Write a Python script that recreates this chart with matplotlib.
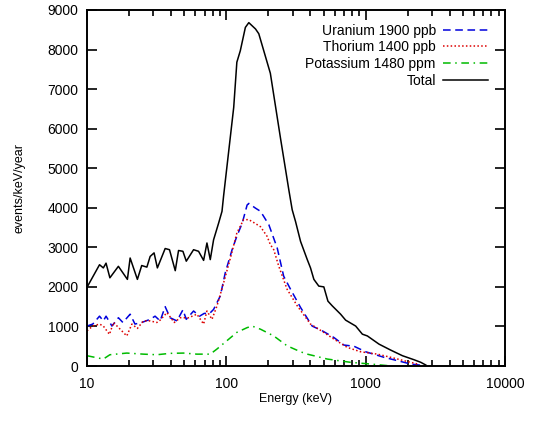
import matplotlib
matplotlib.use("Agg")
import matplotlib.pyplot as plt
from matplotlib.ticker import LogLocator, NullFormatter, FixedLocator

plt.rcParams['font.family'] = ['Liberation Sans', 'DejaVu Sans']
plt.rcParams['font.size'] = 10

# Total spectrum
total_e = [10, 12.3, 13.1, 13.7, 14.6, 16.8, 19.5, 20.4, 23.0, 24.7, 26.9, 28.4, 30.3,
           32.0, 36.4, 39.1, 43.0, 45.4, 48.8, 51.6, 58.2, 63.2, 68.7, 72.6, 76.7,
           81.0, 88.0, 93.1, 95.6, 113, 119, 126, 137, 145, 162, 171, 207, 245, 281,
           297, 314, 341, 381, 402, 425, 461, 501, 536, 576, 661, 718, 848, 947,
           1029, 1247, 1513, 1837, 2226, 2488, 2702]
total_v = [1990, 2560, 2480, 2600, 2230, 2520, 2190, 2730, 2190, 2540, 2500, 2770, 2860,
           2480, 2970, 2940, 2410, 2920, 2900, 2650, 2940, 2900, 2670, 3110, 2690,
           3190, 3610, 3910, 4300, 6540, 7680, 7970, 8560, 8680, 8520, 8400, 7400, 5750, 4450,
           3950, 3650, 3150, 2690, 2480, 2190, 2020, 2000, 1640, 1520, 1310, 1160, 1010, 805,
           760, 553, 402, 260, 158, 93, 25]

# Uranium 1900 ppb
u_e = [10, 11.0, 12.3, 13.1, 13.7, 15.1, 16.8, 18.1, 20.4, 22.1, 24.7, 28.4, 30.8,
       33.5, 36.4, 39.5, 44.2, 48.8, 51.6, 58.2, 64.3, 69.4, 75.9, 81.0, 90.5, 98.3,
       110, 119, 130, 141, 145, 162, 176, 202, 232, 258, 289, 341, 413, 488, 592,
       698, 824, 1000, 1354, 1691, 2107, 2627]
u_v = [1010, 1060, 1260, 1140, 1260, 1010, 1220, 1100, 1310, 1060, 1100, 1180, 1260,
       1140, 1500, 1220, 1140, 1420, 1180, 1390, 1260, 1330, 1330, 1430, 1770, 2360,
       2940, 3280, 3610, 4070, 4110, 3990, 3910, 3570, 2980, 2270, 1940, 1480, 1010, 890, 720,
       530, 500, 360, 220, 135, 50, 10]

# Thorium 1400 ppb
th_e = [10, 11.0, 12.3, 13.1, 14.5, 15.5, 17.3, 19.3, 21.0, 23.0, 25.4, 28.4, 31.7,
        33.5, 37.5, 42.3, 46.7, 53.6, 61.5, 68.7, 72.6, 78.9, 85.7, 95.6, 107, 119,
        133, 145, 162, 176, 196, 207, 219, 238, 273, 323, 402, 501, 592, 738, 920,
        1214, 1513, 1886, 2355]
th_v = [890, 1010, 1060, 1010, 800, 1100, 930, 760, 1060, 950, 1140, 1140, 1100,
        1160, 1350, 1100, 1220, 1220, 1310, 1060, 1390, 1180, 1520, 2100, 2730, 3360,
        3700, 3700, 3600, 3520, 3280, 3070, 2940, 2520, 1940, 1520, 1060, 850, 680, 470, 360,
        300, 220, 135, 50]

# Potassium 1480 ppm
k_e = [10, 13.1, 14.6, 19.3, 25.4, 31.7, 39.5, 49.3, 61.5, 76.7, 85.7, 101, 119, 141,
       153, 176, 219, 273, 341, 381, 425, 530, 780, 1087, 1432]
k_v = [260, 176, 285, 327, 300, 285, 320, 327, 300, 300, 430, 640, 850, 970,
       1010, 930, 760, 510, 360, 300, 260, 176, 93, 50, 10]

fig = plt.figure(figsize=(5.35, 4.25), dpi=100)
ax = fig.add_axes([0.1626, 0.1388, 0.7813, 0.8377])

ax.plot(u_e, u_v, color='#0000dd', lw=1.1, ls=(0, (5, 3)), label='Uranium 1900 ppb')
ax.plot(th_e, th_v, color='#dd0000', lw=1.1, ls=(0, (1, 1.5)), label='Thorium 1400 ppb')
ax.plot(k_e, k_v, color='#00bb00', lw=1.1, ls=(0, (5, 3, 1, 3)), label='Potassium 1480 ppm')
ax.plot(total_e, total_v, color='black', lw=1.1, label='Total')

ax.set_xscale('log')
ax.set_xlim(10, 10000)
ax.set_ylim(0, 9000)
ax.xaxis.set_major_locator(FixedLocator([10, 100, 1000, 10000]))
ax.xaxis.set_minor_locator(LogLocator(base=10, subs=range(2, 10)))
ax.xaxis.set_minor_formatter(NullFormatter())
ax.set_xticklabels(['10', '100', '1000', '10000'])
ax.set_yticks(range(0, 9001, 1000))

ax.tick_params(which='both', direction='in', top=True, right=True, width=1.2)
ax.tick_params(which='major', length=7, pad=8)
ax.tick_params(which='minor', length=4)
ax.tick_params(axis='y', pad=6)
for s in ax.spines.values():
    s.set_linewidth(1.4)

ax.set_xlabel('Energy (keV)', fontsize=9, labelpad=1)
ax.set_ylabel('events/keV/year', fontsize=9, labelpad=16)

leg = ax.legend(loc='upper right', bbox_to_anchor=(0.959, 0.962), frameon=False,
                markerfirst=False, handlelength=3.2, handletextpad=0.55,
                labelspacing=0.2, fontsize=10, borderaxespad=0, borderpad=0)

fig.savefig('out.png', dpi=100)
